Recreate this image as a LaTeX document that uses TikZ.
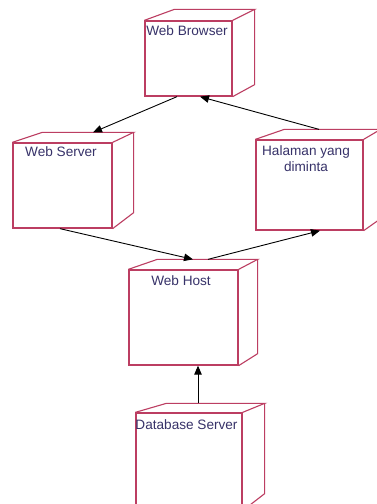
\documentclass[tikz,border=0pt]{standalone}
\usepackage{fontspec}
\setmainfont{Liberation Sans}
\usetikzlibrary{calc,arrows.meta}
\definecolor{boxc}{RGB}{188,62,98}
\definecolor{textc}{RGB}{55,50,105}
\tikzset{
  boxface/.style={draw=boxc, line width=1.3pt, rectangle, inner sep=0pt, fill=white},
  boxline/.style={draw=boxc, line width=1.1pt, line join=miter},
  lbl/.style={text=textc, font=\fontsize{13.6}{16}\selectfont, inner sep=0pt, align=center},
  conn/.style={draw=black, line width=0.9pt, -{Triangle[length=9pt,width=7.5pt]}}
}
\newcommand{\cubefaces}[5]{%
  \draw[boxline] (#1.north west) -- ($(#1.north west)+(#2,-#4)$) -- ($(#1.north east)+(#3,-#4)$) -- (#1.north east);
  \draw[boxline] ($(#1.north east)+(#3,-#4)$) -- ($(#1.south east)+(#3,-#5)$) -- (#1.south east);
}
\begin{document}
\begin{tikzpicture}[x=1pt,y=-1pt]
\useasboundingbox (0,0) rectangle (377,504);
\fill[white] (0,0) rectangle (377,504);
% front faces
\node[boxface, minimum width=87pt, minimum height=75pt] (wb) at (188.5,58.5) {};
\node[boxface, minimum width=99pt, minimum height=85pt] (ws) at (62.5,185.5) {};
\node[boxface, minimum width=107pt, minimum height=90pt] (hal) at (309.5,185) {};
\node[boxface, minimum width=109pt, minimum height=95pt] (wh) at (183.5,317.5) {};
\node[boxface, minimum width=106pt, minimum height=97pt] (db) at (189,461.5) {};
% 3D faces
\cubefaces{wb}{30}{22}{11}{12}
\cubefaces{ws}{30}{21}{10}{16}
\cubefaces{hal}{29}{17}{10}{12}
\cubefaces{wh}{29}{19}{10}{12}
\cubefaces{db}{31}{22}{9}{17}
% labels
\node[lbl] (wbL) at (187,31) {Web Browser};
\node[lbl] (wsL) at (61,152) {Web Server};
\node[lbl] (halL) at (306,159) {Halaman yang\\diminta};
\node[lbl] (whL) at (181,281) {Web Host};
\node[lbl] (dbL) at (186.5,425) {Database Server};
% connectors
\draw[conn] ([xshift=-11.5pt]wb.south) -- ([xshift=30.5pt,yshift=10pt]ws.north);
\draw[conn] ([xshift=9.5pt,yshift=10pt]hal.north) -- ([xshift=11.5pt]wb.south);
\draw[conn] ([xshift=-2.5pt]ws.south) -- ([xshift=9.5pt,yshift=10pt]wh.north);
\draw[conn] ([xshift=24.5pt,yshift=10pt]wh.north) -- ([xshift=10.5pt]hal.south);
\draw[conn] ([xshift=9pt,yshift=9pt]db.north) -- ([xshift=14.5pt]wh.south);
\end{tikzpicture}
\end{document}
